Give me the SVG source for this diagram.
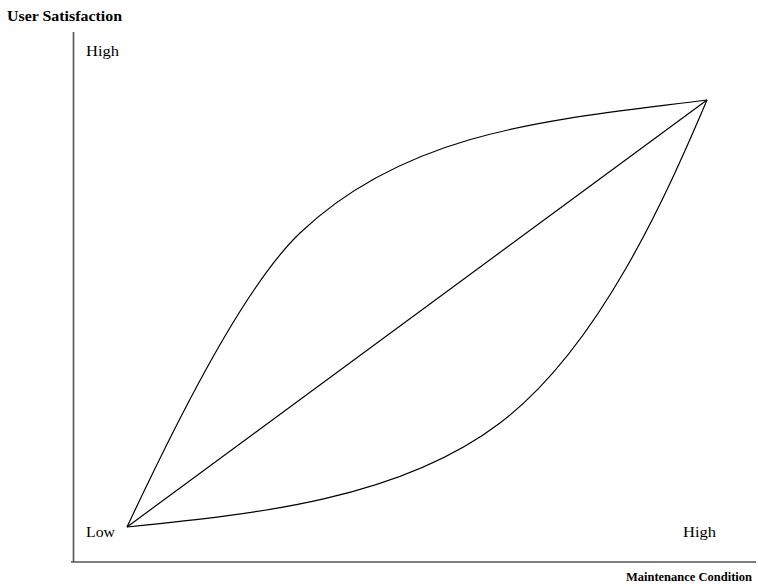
<svg xmlns="http://www.w3.org/2000/svg" width="758" height="587" viewBox="0 0 758 587">
<style>
.axis{stroke:#555;stroke-width:1.6;fill:none}
.curve{stroke:#000;stroke-width:1.2;fill:none}
.t{font-family:"Liberation Serif",serif;font-size:15px;fill:#000}
.b{font-family:"Liberation Serif",serif;font-weight:bold;fill:#000}
</style>
<rect width="758" height="587" fill="#fff"/>
<g id="axes">
<line class="axis" x1="73.5" y1="32" x2="73.5" y2="562"/>
<line class="axis" x1="71" y1="562" x2="756" y2="562"/>
</g>
<g id="connectors">
<path id="upper" class="curve" d="M127,527 C167,442 240,290 300,233 C410,128.5 557,119.5 707,100"/>
<line id="diagonal" class="curve" x1="127" y1="527" x2="707" y2="100"/>
<path id="lower" class="curve" d="M127,527 C257,514 400,499 500,423 C600,347 667,194 707,100"/>
</g>
<g id="labels">
<text class="b" x="7" y="21" font-size="15" textLength="115" lengthAdjust="spacingAndGlyphs">User Satisfaction</text>
<text class="t" x="86" y="56" textLength="33" lengthAdjust="spacingAndGlyphs">High</text>
<text class="t" x="86" y="537" textLength="29" lengthAdjust="spacingAndGlyphs">Low</text>
<text class="t" x="683" y="537" textLength="33" lengthAdjust="spacingAndGlyphs">High</text>
<text class="b" x="752" y="581" font-size="12.5" text-anchor="end">Maintenance Condition</text>
</g>
</svg>
